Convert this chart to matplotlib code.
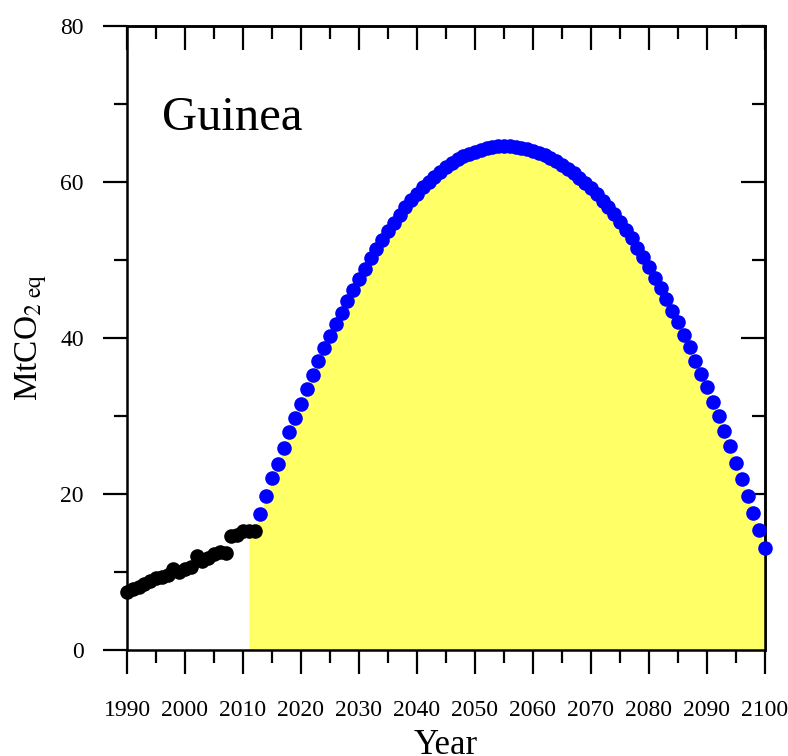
import numpy as np
import matplotlib
matplotlib.use('Agg')
import matplotlib.pyplot as plt

plt.rcParams['font.family'] = ['Liberation Serif', 'DejaVu Serif']
plt.rcParams['mathtext.fontset'] = 'stix'

# historical emissions (black) and projection (blue)
hist_years = np.arange(1990, 2013)
hist_vals = [7.5, 7.8, 8.1, 8.4, 8.8, 9.2, 9.4, 9.6, 10.4, 10.0, 10.4, 10.7,
             12.0, 11.4, 11.8, 12.3, 12.6, 12.5, 14.6, 14.8, 15.2, 15.3, 15.2]

proj_years = np.arange(2013, 2101)
proj_vals = [17.4, 19.7, 22.0, 23.9, 25.9, 27.9, 29.8, 31.6, 33.5, 35.3,
             37.0, 38.7, 40.3, 41.8, 43.2, 44.7, 46.1, 47.5, 48.9, 50.2,
             51.4, 52.6, 53.7, 54.8, 55.8, 56.8, 57.7, 58.5, 59.3, 60.0,
             60.7, 61.3, 61.9, 62.4, 62.9, 63.3, 63.6, 63.9, 64.1, 64.3,
             64.5, 64.6, 64.6, 64.6, 64.5, 64.4, 64.2, 64.0, 63.7, 63.4,
             63.1, 62.7, 62.2, 61.7, 61.1, 60.5, 59.9, 59.2, 58.4, 57.6,
             56.8, 55.9, 54.9, 53.9, 52.8, 51.6, 50.4, 49.1, 47.7, 46.4,
             45.0, 43.5, 42.0, 40.4, 38.8, 37.1, 35.4, 33.7, 31.8, 30.0,
             28.1, 26.1, 24.0, 21.9, 19.7, 17.6, 15.4, 13.1]

fig = plt.figure(figsize=(7.88, 7.56), dpi=100)
ax = fig.add_axes([127/788, 106/756, 638/788, 624/756])

# yellow area from 2011 under the curve
fill_x = np.concatenate([hist_years[-2:], proj_years])
fill_y = np.concatenate([hist_vals[-2:], proj_vals])
ax.fill_between(fill_x, 0, fill_y, color='#ffff66', lw=0, zorder=1)

ax.plot(hist_years, hist_vals, 'o', color='black', ms=10.5, mec='none', zorder=3, clip_on=False)
ax.plot(proj_years, proj_vals, 'o', color='#0000ff', ms=10.5, mec='none', zorder=3, clip_on=False)

ax.set_xlim(1990, 2100)
ax.set_ylim(0, 80)
ax.set_xticks(np.arange(1990, 2101, 10))
ax.set_xticks(np.arange(1995, 2100, 10), minor=True)
ax.set_yticks(np.arange(0, 81, 20))
ax.set_yticks(np.arange(10, 80, 20), minor=True)

for s in ax.spines.values():
    s.set_linewidth(1.8)

ax.tick_params(which='major', direction='out', length=17, width=1.6, labelsize=17, pad=14)
ax.tick_params(which='minor', direction='out', length=9.5, width=1.6)
ax.tick_params(axis='x', which='major', pad=19)

# inward ticks on top and right
top = ax.secondary_xaxis('top')
top.set_xticks(np.arange(1990, 2101, 10))
top.set_xticks(np.arange(1995, 2100, 10), minor=True)
top.tick_params(which='major', direction='in', length=17, width=1.6, labeltop=False)
top.tick_params(which='minor', direction='in', length=9.5, width=1.6)
top.spines['top'].set_linewidth(1.8)

right = ax.secondary_yaxis('right')
right.set_yticks(np.arange(0, 81, 20))
right.set_yticks(np.arange(10, 80, 20), minor=True)
right.tick_params(which='major', direction='in', length=17, width=1.6, labelright=False)
right.tick_params(which='minor', direction='in', length=9.5, width=1.6)
right.spines['right'].set_linewidth(1.8)

ax.set_xlabel('Year', fontsize=25, labelpad=6)
ax.set_ylabel(r'MtCO$_{2\ \mathrm{eq}}$', fontsize=24, labelpad=8)

ax.text(0.055, 0.833, 'Guinea', transform=ax.transAxes, fontsize=35, va='baseline', ha='left')

plt.savefig('out.png', dpi=100)
